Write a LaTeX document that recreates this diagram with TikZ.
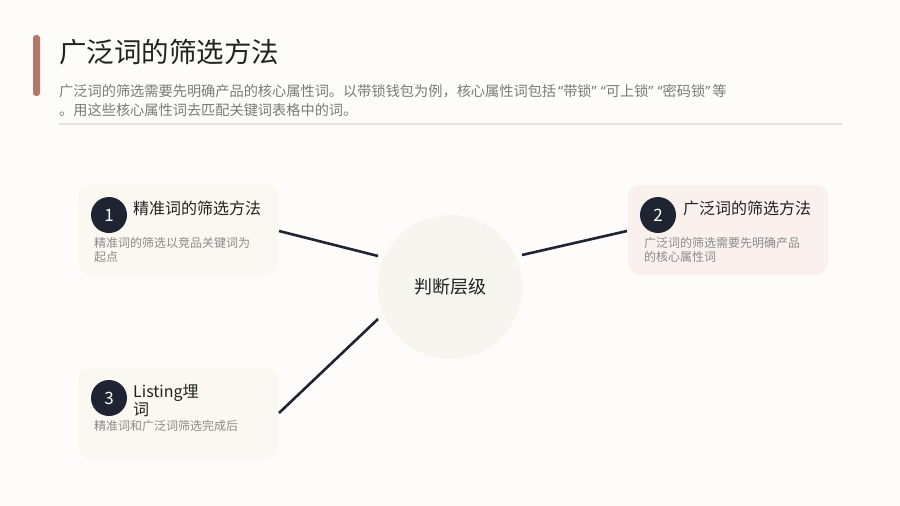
\documentclass[tikz,border=0pt]{standalone}
\usepackage{fontspec}
\setmainfont{Noto Sans CJK SC}
\newfontfamily\latinq{Noto Sans}
\newcommand{\myopenq}{\makebox[0.5em][r]{\latinq “}}
\newcommand{\mycloseq}{\makebox[0.5em][l]{\latinq ”}}
\definecolor{bg}{HTML}{FDFCFA}
\definecolor{accent}{HTML}{B87565}
\definecolor{navy}{HTML}{1F2433}
\definecolor{creambox}{HTML}{FBF8F1}
\definecolor{pinkbox}{HTML}{FAF1ED}
\definecolor{hubfill}{HTML}{F7F5F0}
\definecolor{rulegray}{HTML}{E6E3DD}
\definecolor{subgray}{HTML}{7A7A7A}
\definecolor{descgray}{HTML}{8A8A8A}
\definecolor{titleblack}{HTML}{222222}
\tikzset{
  card/.style={rounded corners=12pt, draw=none},
  numdot/.style={circle, fill=navy, minimum size=36pt, inner sep=0pt, text=white, font=\fontsize{17}{20}\selectfont},
  cardtitle/.style={anchor=west, inner sep=0pt, text=titleblack, font=\fontsize{16}{18}\selectfont, align=left},
  carddesc/.style={anchor=north west, inner sep=0pt, text=descgray, font=\fontsize{12}{14}\selectfont, align=left},
  link/.style={draw=navy, line width=2.6pt},
}
\begin{document}
\begin{tikzpicture}[x=1pt,y=-1pt]
\fill[bg] (0,0) rectangle (900,506);
\useasboundingbox (0,0) rectangle (900,506);
% header
\fill[accent, rounded corners=3pt] (33,35) rectangle (40,96);
\node[anchor=west, inner sep=0pt, text=titleblack, font=\fontsize{27.5}{30}\selectfont] (title) at (59,52) {广泛词的筛选方法};
\node[anchor=north west, inner sep=0pt, text=subgray, font=\fontsize{14.2}{19}\selectfont, align=left] (sub) at (59,84) {广泛词的筛选需要先明确产品的核心属性词。以带锁钱包为例，核心属性词包括\myopenq 带锁\mycloseq\myopenq 可上锁\mycloseq\myopenq 密码锁\mycloseq 等\\。用这些核心属性词去匹配关键词表格中的词。};
\draw[rulegray, line width=1.2pt] (59,124) -- (842,124);
% cards
\fill[card, creambox] (78,185) rectangle (278,275);
\fill[card, pinkbox] (628,185) rectangle (828,275);
\fill[card, creambox] (78,368) rectangle (278,459);
% hub
\node[circle, fill=hubfill, minimum size=144pt, inner sep=0pt, font=\fontsize{18}{20}\selectfont, text=titleblack] (hub) at (450,287) {判断层级};
% card 1
\node[numdot] (n1) at (109,215) {1};
\node[cardtitle] (t1) at (133,208) {精准词的筛选方法};
\node[carddesc] (d1) at (94,237) {精准词的筛选以竞品关键词为\\起点};
% card 2
\node[numdot] (n2) at (658,215) {2};
\node[cardtitle] (t2) at (683,208) {广泛词的筛选方法};
\node[carddesc] (d2) at (644,237) {广泛词的筛选需要先明确产品\\的核心属性词};
% card 3
\node[numdot] (n3) at (109,398) {3};
\node[cardtitle] (t3) at (133,401) {Listing埋\\词};
\node[carddesc] (d3) at (94,420) {精准词和广泛词筛选完成后};
% connectors
\coordinate (c1) at (279,231);
\coordinate (c2) at (627,231);
\coordinate (c3) at (279,413);
\coordinate (h1) at (378,256);
\coordinate (h2) at (522,255);
\coordinate (h3) at (378,319);
\draw[link] (c1) -- (h1);
\draw[link] (c2) -- (h2);
\draw[link] (c3) -- (h3);
\end{tikzpicture}
\end{document}
